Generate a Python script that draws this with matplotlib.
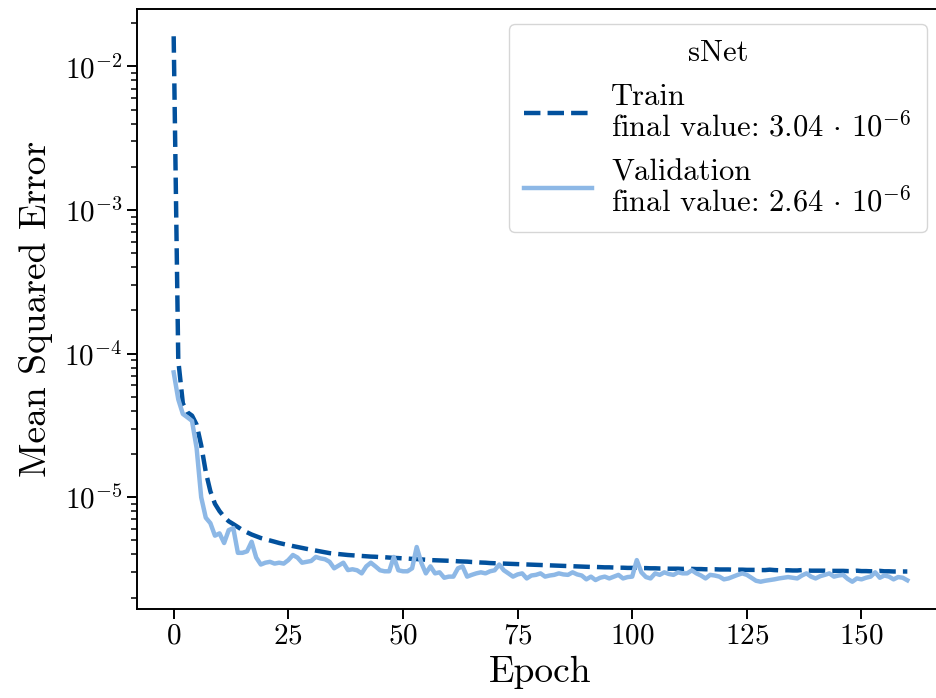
import matplotlib
matplotlib.use("Agg")
import matplotlib.pyplot as plt
import numpy as np

plt.rcParams['font.family'] = 'serif'
plt.rcParams['font.serif'] = ['cmr10']
plt.rcParams['mathtext.fontset'] = 'cm'
plt.rcParams['axes.formatter.use_mathtext'] = True
plt.rcParams['axes.unicode_minus'] = False

epochs = list(range(161))

train_mse = [
    1.62e-2, 9.0e-5, 4.5e-5, 3.9e-5, 3.7e-5, 3.2e-5, 2.3e-5, 1.5e-5, 1.1e-5, 9.0e-6,
    8.0e-6, 7.3e-6, 6.8e-6, 6.5e-6, 6.2e-6, 5.9e-6, 5.7e-6, 5.5e-6, 5.35e-6, 5.2e-6,
    5.1e-6, 5.0e-6, 4.9e-6, 4.8e-6, 4.72e-6, 4.65e-6, 4.57e-6, 4.5e-6, 4.43e-6, 4.37e-6,
    4.31e-6, 4.25e-6, 4.2e-6, 4.14e-6, 4.08e-6, 4.05e-6, 4.02e-6, 3.99e-6, 3.96e-6, 3.94e-6,
    3.92e-6, 3.9e-6, 3.88e-6, 3.86e-6, 3.85e-6, 3.83e-6, 3.82e-6, 3.80e-6, 3.78e-6, 3.77e-6,
    3.75e-6, 3.74e-6, 3.72e-6, 3.71e-6, 3.69e-6, 3.67e-6, 3.65e-6, 3.64e-6, 3.63e-6, 3.62e-6,
    3.61e-6, 3.60e-6, 3.58e-6, 3.57e-6, 3.56e-6, 3.54e-6, 3.53e-6, 3.51e-6, 3.50e-6, 3.48e-6,
    3.47e-6, 3.46e-6, 3.45e-6, 3.44e-6, 3.43e-6, 3.42e-6, 3.41e-6, 3.40e-6, 3.39e-6, 3.38e-6,
    3.37e-6, 3.36e-6, 3.35e-6, 3.34e-6, 3.33e-6, 3.32e-6, 3.31e-6, 3.31e-6, 3.30e-6, 3.29e-6,
    3.28e-6, 3.27e-6, 3.27e-6, 3.26e-6, 3.25e-6, 3.25e-6, 3.24e-6, 3.23e-6, 3.23e-6, 3.22e-6,
    3.22e-6, 3.23e-6, 3.21e-6, 3.21e-6, 3.20e-6, 3.20e-6, 3.19e-6, 3.19e-6, 3.18e-6, 3.18e-6,
    3.18e-6, 3.17e-6, 3.19e-6, 3.17e-6, 3.16e-6, 3.16e-6, 3.15e-6, 3.15e-6, 3.15e-6, 3.14e-6,
    3.14e-6, 3.14e-6, 3.13e-6, 3.13e-6, 3.13e-6, 3.12e-6, 3.12e-6, 3.12e-6, 3.11e-6, 3.11e-6,
    3.13e-6, 3.11e-6, 3.10e-6, 3.10e-6, 3.10e-6, 3.09e-6, 3.09e-6, 3.11e-6, 3.09e-6, 3.08e-6,
    3.08e-6, 3.08e-6, 3.08e-6, 3.07e-6, 3.07e-6, 3.07e-6, 3.07e-6, 3.06e-6, 3.06e-6, 3.08e-6,
    3.06e-6, 3.06e-6, 3.05e-6, 3.05e-6, 3.07e-6, 3.05e-6, 3.05e-6, 3.04e-6, 3.04e-6, 3.04e-6,
    3.04e-6,
]

val_mse = [
    7.4e-5, 4.8e-5, 3.8e-5, 3.6e-5, 3.4e-5, 2.2e-5, 1.0e-5, 7.2e-6, 6.6e-6, 5.4e-6,
    5.6e-6, 4.8e-6, 5.9e-6, 6.1e-6, 4.1e-6, 4.1e-6, 4.2e-6, 4.9e-6, 3.8e-6, 3.4e-6,
    3.5e-6, 3.55e-6, 3.45e-6, 3.5e-6, 3.45e-6, 3.65e-6, 3.96e-6, 3.8e-6, 3.5e-6, 3.55e-6,
    3.6e-6, 3.84e-6, 3.75e-6, 3.7e-6, 3.55e-6, 3.2e-6, 3.35e-6, 3.5e-6, 3.11e-6, 3.15e-6,
    3.1e-6, 2.95e-6, 3.3e-6, 3.5e-6, 3.3e-6, 3.1e-6, 3.05e-6, 3.05e-6, 3.84e-6, 3.1e-6,
    3.05e-6, 3.05e-6, 3.2e-6, 4.5e-6, 3.5e-6, 2.95e-6, 3.3e-6, 2.95e-6, 3.0e-6, 2.75e-6,
    2.8e-6, 2.8e-6, 3.2e-6, 3.3e-6, 2.8e-6, 2.88e-6, 2.95e-6, 3.0e-6, 2.95e-6, 3.05e-6,
    3.1e-6, 3.4e-6, 3.1e-6, 2.95e-6, 2.8e-6, 2.9e-6, 2.95e-6, 2.72e-6, 2.85e-6, 2.88e-6,
    2.95e-6, 2.8e-6, 2.85e-6, 2.88e-6, 2.95e-6, 2.9e-6, 2.88e-6, 3.0e-6, 2.9e-6, 2.85e-6,
    2.68e-6, 2.8e-6, 2.65e-6, 2.75e-6, 2.8e-6, 2.72e-6, 2.8e-6, 2.88e-6, 2.72e-6, 2.78e-6,
    2.8e-6, 3.65e-6, 3.0e-6, 2.78e-6, 2.72e-6, 2.95e-6, 2.88e-6, 3.0e-6, 2.92e-6, 2.88e-6,
    3.0e-6, 2.95e-6, 2.95e-6, 3.1e-6, 2.95e-6, 2.85e-6, 2.72e-6, 2.88e-6, 2.85e-6, 2.8e-6,
    2.68e-6, 2.72e-6, 2.8e-6, 2.88e-6, 2.95e-6, 2.88e-6, 2.75e-6, 2.62e-6, 2.58e-6, 2.62e-6,
    2.65e-6, 2.68e-6, 2.72e-6, 2.75e-6, 2.78e-6, 2.75e-6, 2.72e-6, 2.85e-6, 2.95e-6, 2.8e-6,
    2.72e-6, 2.82e-6, 2.88e-6, 2.95e-6, 2.8e-6, 2.85e-6, 2.88e-6, 2.7e-6, 2.58e-6, 2.72e-6,
    2.68e-6, 2.75e-6, 2.8e-6, 3.0e-6, 2.75e-6, 2.85e-6, 2.8e-6, 2.68e-6, 2.78e-6, 2.75e-6,
    2.64e-6,
]

legend_title = "sNet"
train_label = "Train\nfinal value: $3.04 \\,\\cdot\\, 10^{-6}$"
val_label = "Validation\nfinal value: $2.64 \\,\\cdot\\, 10^{-6}$"

W, H = 937, 698
fig = plt.figure(figsize=(W / 100, H / 100), dpi=100)
ax_left, ax_right, ax_top, ax_bottom = 137, 944, 9, 609
ax = fig.add_axes([ax_left / W, 1 - ax_bottom / H, (ax_right - ax_left) / W, (ax_bottom - ax_top) / H])

ax.plot(epochs, train_mse, linestyle='--', color='#02519d', lw=3.2, label=train_label)
ax.plot(epochs, val_mse, linestyle='-', color='#8db8e6', lw=3.2, label=val_label)
ax.set_yscale('log')
ax.set_xlim(-8, 168)
ax.spines['right'].set_visible(False)

ax.set_xticks([0, 25, 50, 75, 100, 125, 150])
ax.tick_params(axis='both', which='major', labelsize=21, length=7, width=1.4)
ax.tick_params(axis='both', which='minor', length=4, width=1.1)
for s in ax.spines.values():
    s.set_linewidth(1.4)

ax.set_xlabel("Epoch", fontsize=27, labelpad=4)
ax.set_ylabel("Mean Squared Error", fontsize=27, labelpad=8)

leg = ax.legend(title=legend_title, fontsize=22, title_fontsize=22,
                loc='upper right', bbox_to_anchor=(927 / W, 1 - 24 / H),
                bbox_transform=fig.transFigure, borderaxespad=0, borderpad=0.5,
                handlelength=2.2, handletextpad=0.65, labelspacing=0.55)
for t in leg.get_texts():
    t.set_linespacing(1.0)

fig.savefig("out.png", dpi=100)
